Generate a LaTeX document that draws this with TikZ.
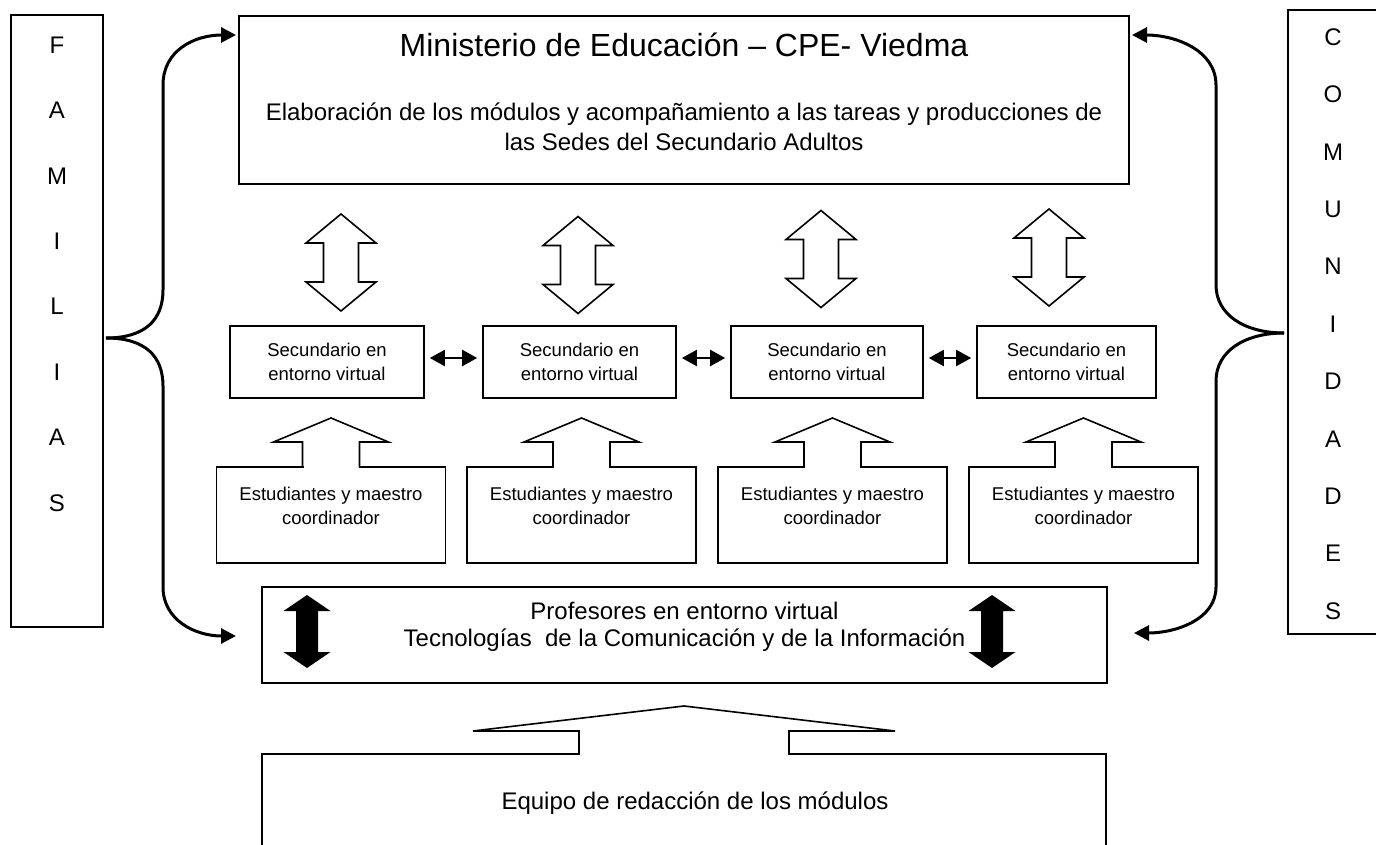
\documentclass[tikz,border=0pt]{standalone}
\usepackage{fontspec}
\setmainfont{Liberation Sans}
\usetikzlibrary{arrows.meta,calc}
\tikzset{
  caja/.style={draw,line width=1.6pt,inner sep=0pt},
  letra/.style={font=\fontsize{24}{24}\selectfont},
  chico/.style={font=\fontsize{18.5}{24}\selectfont,align=center},
  medio/.style={font=\fontsize{24}{30}\selectfont,align=center},
  hueca/.style={line width=1.6pt,line join=miter},
  llave/.style={line width=3pt,-{Triangle[length=15pt,width=15pt]}},
  punta/.style={{Triangle[length=15pt,width=16pt]}-{Triangle[length=15pt,width=16pt]}},
}
\begin{document}
\begin{tikzpicture}[x=1pt,y=-1pt]
    \useasboundingbox (0,0) rectangle (1376,845);
    \clip (0,0) rectangle (1376,845);
    % columnas laterales
    \node[caja,minimum width=92pt,minimum height=612pt] (fam) at (57,321) {};
    \node[caja,minimum width=92pt,minimum height=624pt] (com) at (1334,322) {};
    \foreach \l [count=\i] in {F,A,M,I,L,I,A,S}
      \node[letra] (f\i) at (57,{45+(\i-1)*65.4}) {\l};
    \foreach \l [count=\i] in {C,O,M,U,N,I,D,A,D,E,S}
      \node[letra] (c\i) at (1333,{37+(\i-1)*57.4}) {\l};
    % ministerio
    \node[caja,minimum width=890pt,minimum height=168pt] (min) at (684,100) {};
    \node[font=\fontsize{32}{38}\selectfont] (tit) at (684,45) {Ministerio de Educación – CPE- Viedma};
    \node[medio] (elab) at (684,127) {Elaboración de los módulos y acompañamiento a las tareas y producciones de\\las Sedes del Secundario Adultos};
    % flechas dobles huecas
    \foreach \cx/\cy in {341/262.5,578/265,821/259,1049/257.5}
      \draw[hueca] (\cx,{\cy-48.5}) -- ({\cx+35},{\cy-19.5}) -- ({\cx+17.5},{\cy-19.5}) -- ({\cx+17.5},{\cy+19.5})
        -- ({\cx+35},{\cy+19.5}) -- (\cx,{\cy+48.5}) -- ({\cx-35},{\cy+19.5}) -- ({\cx-17.5},{\cy+19.5})
        -- ({\cx-17.5},{\cy-19.5}) -- ({\cx-35},{\cy-19.5}) -- cycle;
    % sedes
    \foreach \cx/\w [count=\i] in {327/194,579.5/193,827/192,1066.5/179}
      \node[caja,chico,minimum width=\w pt,minimum height=72pt] (sec\i) at (\cx,362) {Secundario en\\entorno virtual};
    \foreach \i/\j in {1/2,2/3,3/4}
      \draw[punta,line width=2pt,shorten <=5pt,shorten >=5pt] ($(sec\i.east)+(0,-4)$) -- ($(sec\j.west)+(0,-4)$);
    % estudiantes
    \foreach \cx [count=\i] in {331,581.5,832.5,1083.5}{
      \node[caja,minimum width=229pt,minimum height=96pt] (est\i) at (\cx,515) {};
      \node[chico] (estt\i) at (\cx,506) {Estudiantes y maestro\\coordinador};
      \fill[white] ({\cx-27.5},442) rectangle ({\cx+27.5},470);
      \draw[hueca] ({\cx-28.5},467) -- ({\cx-28.5},442) -- ({\cx-57.5},442) -- (\cx,418)
        -- ({\cx+57.5},442) -- ({\cx+28.5},442) -- ({\cx+28.5},467);
    }
    % profesores
    \node[caja,minimum width=845pt,minimum height=96pt] (prof) at (684.5,635) {};
    \node[medio,font=\fontsize{24}{27}\selectfont] (proft) at (684.5,627) {Profesores en entorno virtual\\Tecnologías\ \ de la Comunicación y de la Información};
    \foreach \cx in {307,992}
      \fill (\cx,595) -- ({\cx+23.5},611) -- ({\cx+11},611) -- ({\cx+11},652) -- ({\cx+23.5},652) -- (\cx,668)
        -- ({\cx-23.5},652) -- ({\cx-11},652) -- ({\cx-11},611) -- ({\cx-23.5},611) -- cycle;
    % equipo
    \node[caja,minimum width=844pt,minimum height=146pt] (eq) at (684,827) {};
    \node[medio] (eqt) at (695,803) {Equipo de redacción de los módulos};
    \fill[white] (580,729) rectangle (788,757);
    \draw[hueca] (579,754) -- (579,731) -- (473,731) -- (684,706) -- (895,731) -- (789,731) -- (789,754);
    % llaves
    \coordinate (fp) at (106,338);
    \coordinate (cp) at (1284,333);
    \draw[llave] (fp) .. controls (145,338) and (163,320) .. (163,290) -- (163,85)
      .. controls (163,50) and (195,35) .. (236,35);
    \draw[llave] (fp) .. controls (145,338) and (163,356) .. (163,386) -- (163,587)
      .. controls (163,620) and (195,636) .. (236,636);
    \draw[llave] (cp) .. controls (1245,333) and (1216,315) .. (1216,285) -- (1216,85)
      .. controls (1216,50) and (1175,35) .. (1132,35);
    \draw[llave] (cp) .. controls (1245,333) and (1216,351) .. (1216,381) -- (1216,587)
      .. controls (1216,620) and (1175,633) .. (1134,633);
\end{tikzpicture}
\end{document}
